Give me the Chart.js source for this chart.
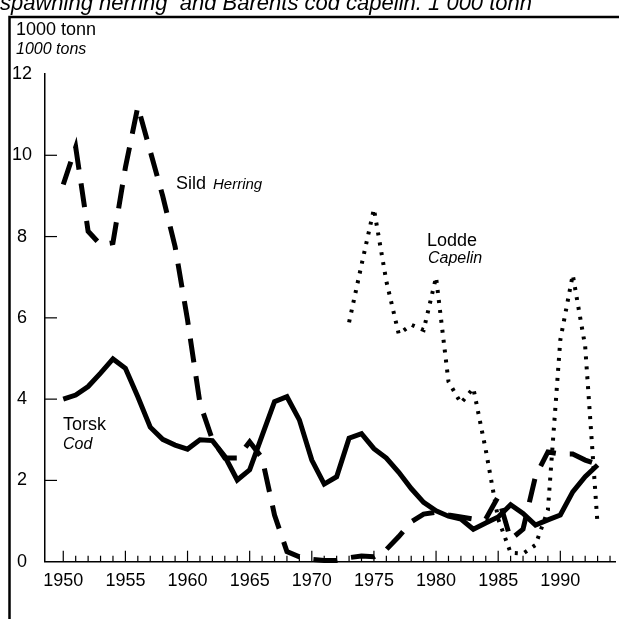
<!DOCTYPE html>
<html><head><meta charset="utf-8">
<script src="https://cdn.jsdelivr.net/npm/chart.js@4.4.1/dist/chart.umd.min.js"></script>
<style>html,body{margin:0;padding:0;background:#fff;overflow:hidden}#wrap{width:619px;height:619px;position:relative}</style>
</head><body><div id="wrap"><canvas id="c" width="619" height="619"></canvas></div>
<script>
const years = [1950,1951,1952,1953,1954,1955,1956,1957,1958,1959,1960,1961,1962,1963,1964,1965,1966,1967,1968,1969,1970,1971,1972,1973,1974,1975,1976,1977,1978,1979,1980,1981,1982,1983,1984,1985,1986,1987,1988,1989,1990,1991,1992,1993];
const codValues = [4.0,4.1,4.31,4.64,4.99,4.76,4.06,3.31,3.01,2.87,2.77,3.0,2.98,2.59,2.01,2.26,3.1,3.94,4.06,3.49,2.5,1.91,2.09,3.04,3.15,2.78,2.55,2.2,1.8,1.46,1.25,1.12,1.05,0.8,0.95,1.1,1.4,1.19,0.9,1.03,1.15,1.72,2.09,2.38];
const herringValues = [9.28,10.2,8.13,7.8,7.85,9.7,11.2,10.1,9.0,7.75,5.95,3.9,3.0,2.55,2.55,2.95,2.55,1.15,0.25,0.12,0.06,0.03,0.03,0.1,0.14,0.12,0.3,0.62,0.98,1.17,1.22,1.15,1.1,1.05,1.05,1.6,0.55,0.8,2.1,2.7,2.65,2.65,2.5,2.4];
const capelinYears = [1973,1974,1975,1976,1977,1978,1979,1980,1981,1982,1983,1984,1985,1986,1987,1988,1989,1990,1991,1992,1993];
const capelinValues = [5.89,7.3,8.68,6.9,5.6,5.83,5.7,7.0,4.43,3.9,4.27,2.75,1.05,0.22,0.2,0.41,1.27,5.46,7.06,5.3,0.9];
const xTickYears = [1950,1955,1960,1965,1970,1975,1980,1985,1990];
const xTickLabels = ['1950','1955','1960','1965','1970','1975','1980','1985','1990'];
const yTickValues = [0,2,4,6,8,10,12];
const yTickLabels = ['0','2','4','6','8','10','12'];
const titleText = 'spawning herring  and Barents cod capelin. 1 000 tonn';
const unitText = '1000 tonn';
const unitTextEn = '1000 tons';
const seriesNames = {cod:['Torsk','Cod'], herring:['Sild','Herring'], capelin:['Lodde','Capelin']};

const FONT = "'Liberation Sans Narrow','Arial Narrow','Liberation Sans',Arial,sans-serif";

const pts = (xs, ys) => xs.map((x,i)=>({x:x, y:ys[i]}));

const decor = {
  id:'decor',
  afterDraw(chart){
    const ctx = chart.ctx;
    const xs = chart.scales.x, ys = chart.scales.y;
    ctx.save();
    ctx.strokeStyle='#000'; ctx.lineWidth=2.5;
    ctx.beginPath(); ctx.moveTo(9.5,619); ctx.lineTo(9.5,17); ctx.lineTo(619,17); ctx.stroke();
    ctx.fillStyle='#000';
    ctx.font = "italic 22px "+FONT;
    ctx.textBaseline='alphabetic'; ctx.textAlign='left';
    ctx.fillText(titleText, 0, 10);
    ctx.font = "18px "+FONT;
    ctx.fillText(unitText, 16, 35);
    ctx.font = "italic 16px "+FONT;
    ctx.fillText(unitTextEn, 16, 54);
    ctx.lineWidth=1.2;
    const y0 = ys.getPixelForValue(0);
    for (let yr=1950; yr<=1994; yr++){
      const px = xs.getPixelForValue(yr);
      const len = (yr%5===0)?11:6;
      ctx.beginPath(); ctx.moveTo(px,y0); ctx.lineTo(px,y0-len); ctx.stroke();
    }
    const x0 = xs.left;
    yTickValues.forEach(v=>{ if(v===0||v===12) return;
      const py = ys.getPixelForValue(v);
      ctx.beginPath(); ctx.moveTo(x0,py); ctx.lineTo(x0+12,py); ctx.stroke();
    });
    ctx.font = "18px "+FONT; ctx.fillText(seriesNames.herring[0], 176, 189);
    const wS = ctx.measureText(seriesNames.herring[0]).width;
    ctx.font = "italic 15px "+FONT; ctx.fillText(seriesNames.herring[1], 176+wS+7, 189);
    ctx.font = "18px "+FONT; ctx.fillText(seriesNames.capelin[0], 427, 246);
    ctx.font = "italic 16px "+FONT; ctx.fillText(seriesNames.capelin[1], 428, 263);
    ctx.font = "18px "+FONT; ctx.fillText(seriesNames.cod[0], 63, 430);
    ctx.font = "italic 16px "+FONT; ctx.fillText(seriesNames.cod[1], 63, 449);
    ctx.restore();
  }
};

new Chart(document.getElementById('c'), {
  type:'line',
  data:{ datasets:[
    {label:'Torsk', data:pts(years,codValues), borderColor:'#000', borderWidth:5, pointRadius:0, tension:0, fill:false, clip:10},
    {label:'Sild', data:pts(years,herringValues), borderColor:'#000', borderWidth:5, borderDash:[24,14], borderCapStyle:'butt', pointRadius:0, tension:0, fill:false, clip:10},
    {label:'Lodde', data:pts(capelinYears,capelinValues), borderColor:'#000', borderWidth:4, borderDash:[3,7], borderCapStyle:'butt', pointRadius:0, tension:0, fill:false, clip:10}
  ]},
  options:{
    responsive:false, animation:false, devicePixelRatio:1,
    layout:{padding:{top:74,right:4,left:0,bottom:0}},
    plugins:{legend:{display:false}, tooltip:{enabled:false}},
    scales:{
      x:{type:'linear', min:1948.53, max:1994.4,
        afterBuildTicks:(s)=>{ s.ticks = xTickYears.map(v=>({value:v})); },
        afterFit:(s)=>{ s.height = 57.3; },
        grid:{display:false, drawTicks:false},
        border:{display:true, color:'#000', width:1.5},
        ticks:{autoSkip:false, maxRotation:0, padding:9, color:'#000', font:{family:FONT, size:18},
          callback:(v)=>{ const i = xTickYears.indexOf(v); return i>=0?xTickLabels[i]:''; }}
      },
      y:{type:'linear', min:0, max:12,
        afterBuildTicks:(s)=>{ s.ticks = yTickValues.map(v=>({value:v})); },
        afterFit:(s)=>{ s.width = 45; },
        grid:{display:false, drawTicks:false},
        border:{display:true, color:'#000', width:1.5},
        ticks:{crossAlign:'center', padding:13, color:'#000', font:{family:FONT, size:18},
          callback:(v)=>{ const i = yTickValues.indexOf(v); return i>=0?yTickLabels[i]:''; }}
      }
    }
  },
  plugins:[decor]
});
</script></body></html>
